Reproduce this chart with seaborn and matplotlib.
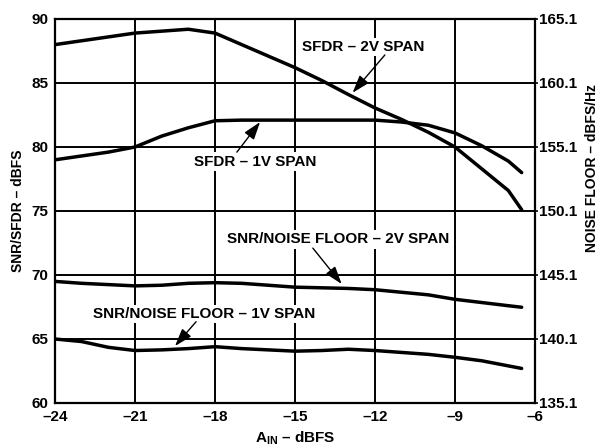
import numpy as np
import pandas as pd
import matplotlib
matplotlib.use("Agg")
import matplotlib.pyplot as plt
import seaborn as sns

# ---- data ----
ain = [-24, -23, -22, -21, -20, -19, -18, -17, -16, -15, -14, -13, -12, -11, -10, -9, -8, -7, -6.5]
sfdr_2v = [88.0, 88.3, 88.6, 88.9, 89.05, 89.2, 88.9, 88.0, 87.1, 86.2, 85.2, 84.1, 83.05, 82.15, 81.15, 80.0, 78.3, 76.6, 75.1]
sfdr_1v = [79.0, 79.3, 79.6, 80.0, 80.85, 81.5, 82.05, 82.1, 82.1, 82.1, 82.1, 82.1, 82.1, 81.95, 81.7, 81.1, 80.1, 78.9, 78.0]
snr_2v = [69.5, 69.35, 69.25, 69.15, 69.2, 69.35, 69.4, 69.35, 69.2, 69.05, 69.0, 68.95, 68.85, 68.65, 68.45, 68.1, 67.85, 67.6, 67.48]
snr_1v = [65.0, 64.8, 64.35, 64.1, 64.15, 64.25, 64.4, 64.25, 64.15, 64.05, 64.1, 64.2, 64.1, 63.95, 63.8, 63.57, 63.3, 62.9, 62.7]

x_ticks = [-24, -21, -18, -15, -12, -9, -6]
x_tick_labels = ["\u201324", "\u201321", "\u201318", "\u201315", "\u201312", "\u20139", "\u20136"]
y_ticks = [60, 65, 70, 75, 80, 85, 90]
y2_ticks = [135.1, 140.1, 145.1, 150.1, 155.1, 160.1, 165.1]
y2_tick_labels = ["135.1", "140.1", "145.1", "150.1", "155.1", "160.1", "165.1"]

labels = ["SFDR \u2013 2V SPAN", "SFDR \u2013 1V SPAN",
          "SNR/NOISE FLOOR \u2013 2V SPAN", "SNR/NOISE FLOOR \u2013 1V SPAN"]

df = pd.DataFrame({
    "ain": ain * 4,
    "val": sfdr_2v + sfdr_1v + snr_2v + snr_1v,
    "series": sum([[lab] * len(ain) for lab in labels], []),
})

# ---- style ----
sns.set_theme(style="white")
plt.rcParams["font.family"] = ["Liberation Sans", "DejaVu Sans"]
plt.rcParams["font.weight"] = "bold"
plt.rcParams["mathtext.fontset"] = "custom"
plt.rcParams["mathtext.rm"] = "Liberation Sans:bold"
plt.rcParams["mathtext.bf"] = "Liberation Sans:bold"

fig = plt.figure(figsize=(6.05, 4.46), dpi=100)
ax = fig.add_axes([55 / 605, 1 - 403 / 446, 480 / 605, 384 / 446])

sns.lineplot(data=df, x="ain", y="val", units="series", estimator=None,
             color="black", linewidth=2.5, ax=ax, legend=False, zorder=3)

ax.set_xlim(-24, -6)
ax.set_ylim(60, 90)
ax.set_xticks(x_ticks)
ax.set_xticklabels(x_tick_labels)
ax.set_yticks(y_ticks)
ax.grid(True, color="black", linewidth=1.4)
for s in ax.spines.values():
    s.set_color("black")
    s.set_linewidth(1.6)
ax.tick_params(axis="both", length=0, pad=5, labelsize=11, colors="black")
for t in ax.get_xticklabels() + ax.get_yticklabels():
    t.set_fontweight("bold")

ax.set_xlabel("A$_{\\mathrm{IN}}$ \u2013 dBFS",
              fontsize=11, fontweight="bold", color="black")
ax.xaxis.set_label_coords(0.5, -0.068)
ax.set_ylabel("SNR/SFDR \u2013 dBFS", fontsize=10, fontweight="bold", color="black")
ax.yaxis.set_label_coords(-0.0625, 0.5)

ax2 = ax.twinx()
ax2.set_ylim(135.1, 165.1)
ax2.set_yticks(y2_ticks)
ax2.set_yticklabels(y2_tick_labels)
ax2.tick_params(axis="y", length=2, width=1.2, pad=1, labelsize=11, colors="black")
for t in ax2.get_yticklabels():
    t.set_fontweight("bold")
for s in ax2.spines.values():
    s.set_visible(False)
ax2.set_ylabel("NOISE FLOOR \u2013 dBFS/Hz", fontsize=10, fontweight="bold", color="black")
ax2.yaxis.set_label_coords(1.104, 0.611)

# ---- annotations ----
box = dict(boxstyle="square,pad=0.15", fc="white", ec="none")
arrow = dict(arrowstyle="-|>,head_length=0.9,head_width=0.3", color="black", lw=1.0,
             shrinkA=0, shrinkB=0)
ann = [
    (labels[0], (-14.74, 87.8), (-11.63, 87.19), (-12.84, 84.24)),
    (labels[1], (-18.79, 78.85), (-17.18, 79.6), (-16.31, 81.95)),
    (labels[2], (-17.55, 72.79), (-14.33, 72.1), (-13.25, 69.3)),
    (labels[3], (-22.575, 66.95), (-18.71, 66.35), (-19.5, 64.45)),
]
for text, tpos, a0, a1 in ann:
    ax.annotate("", xy=a1, xytext=a0, arrowprops=arrow, zorder=5)
    ax.text(tpos[0], tpos[1], text, ha="left", va="center", fontsize=11,
            fontweight="bold", color="black", bbox=box, zorder=4)

fig.savefig("out.png", dpi=100)
